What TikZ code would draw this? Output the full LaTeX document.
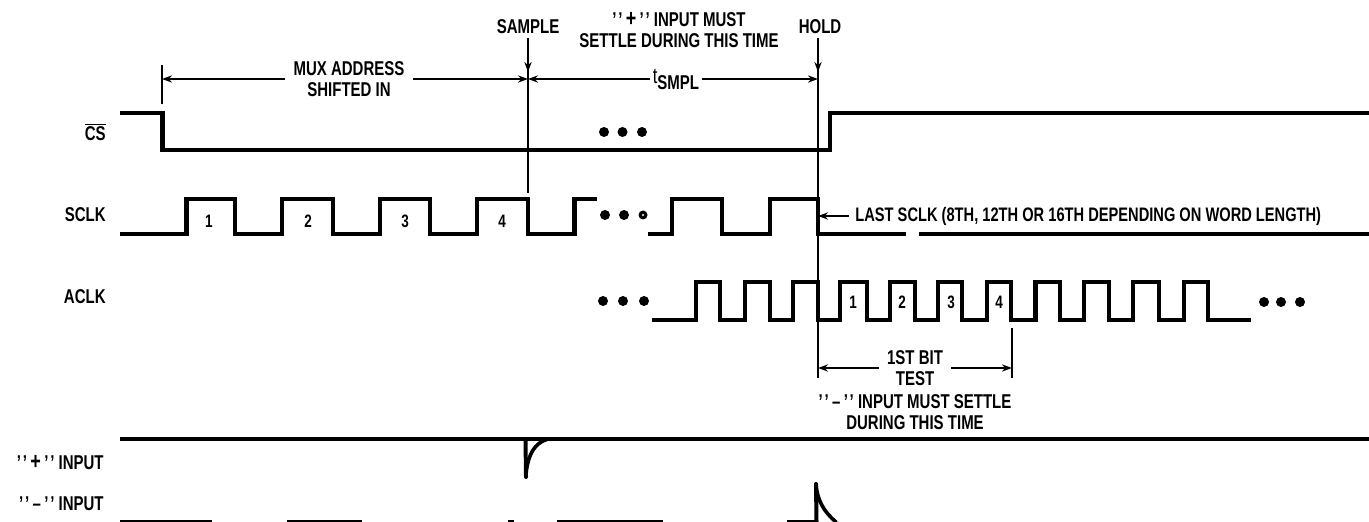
\documentclass[tikz,border=0pt]{standalone}
\usepackage{fontspec}
\setmainfont[FakeStretch=0.75,BoldFont={Liberation Sans Bold}]{Liberation Sans}
\usetikzlibrary{arrows.meta}
\newcommand{\tq}{'\kern0.9pt'}
\tikzset{
  sig/.style={line width=2.2pt,line join=miter,line cap=butt},
  thin line/.style={line width=1pt},
  arr/.style={line width=1pt,-{Stealth[length=5pt,width=3.6pt]}},
  lab/.style={font=\fontsize{10}{10.5}\selectfont\bfseries,inner sep=0pt,align=center},
  gaplab/.style={lab,inner xsep=4pt},
  dig/.style={font=\fontsize{9}{10}\selectfont\bfseries,inner sep=0pt},
  dotf/.style={fill=black,draw=none,circle,minimum size=5pt,inner sep=0pt},
}
\begin{document}
\begin{tikzpicture}[x=0.5pt,y=-0.5pt]
\useasboundingbox (0,0) rectangle (1369,522);
% row labels
\node[lab,anchor=east] (lcs) at (106,132) {$\overline{\mbox{CS}}$};
\node[lab,anchor=east] (lsclk) at (106,215) {SCLK};
\node[lab,anchor=east] (laclk) at (106,297) {ACLK};
\node[lab,anchor=east] (lplus) at (104,463) {\tq\,{\large +}\,\tq{} INPUT};
\node[lab,anchor=east] (lminus) at (104,504) {\tq\,--\,\tq{} INPUT};
% reference points
\coordinate (t0a) at (162,65);
\coordinate (t0b) at (162,104);
\coordinate (sa) at (528,38);
\coordinate (sb) at (528,193);
\coordinate (sm) at (528,72);
\coordinate (st) at (528,79);
\coordinate (ha) at (818,38);
\coordinate (hm) at (818,72);
\coordinate (hb) at (818,378);
\coordinate (ht) at (818,79);
\coordinate (hl) at (818,216);
\coordinate (bl) at (818,368);
\coordinate (r1) at (1012,328);
\coordinate (r2) at (1012,378);
\coordinate (rm) at (1012,368);
\coordinate (tl) at (162,79);
% signals
\draw[sig] (120,113) -- (162.5,113) -- (162.5,150) -- (830,150) -- (830,113) -- (1369,113);
\draw[sig] (120,234) -| (186.5,199) -| (235,234) -| (282,199) -| (333,234) -| (380,199) -| (430,234) -| (477,199) -| (528,234) -| (574.5,199) -- (597,199);
\draw[sig] (648,234) -| (672,199) -| (722,234) -| (770,199) -| (818,234) -- (906,234);
\draw[sig] (919,234) -- (1369,234);
\draw[sig] (652,320) -| (696,282) -| (720,320) -| (745,282) -| (770,320) -| (793,282) -| (818,320)
  -| (840,282) -| (867,320) -| (890,282) -| (915,320) -| (938,282) -| (962,320) -| (987,282) -| (1011,320)
  -| (1035.5,282) -| (1060,320) -| (1084,282) -| (1109,320) -| (1133,282) -| (1159,320) -| (1184,282) -| (1208,320) -- (1251,320);
\draw[sig] (120,439) -- (1369,439);
\draw[line width=2pt,line cap=round] (525.5,439) -- (526,477);
\draw[line width=1.8pt] (526,474) .. controls (528,455) and (534,443) .. (548,439);
\draw[line width=1.8pt,line cap=round] (816,484) .. controls (817,500) and (824,512) .. (836,522);
\draw[line width=2pt,line cap=round] (816,484) -- (816.5,522);
\draw[thin line] (120,521) -- (212,521);
\draw[thin line] (287,521) -- (362,521);
\draw[thin line] (508,521) -- (514,521);
\draw[thin line] (557,521) -- (663,521);
\draw[thin line] (787,521) -- (816,521);
% vertical markers
\draw[thin line] (t0a) -- (t0b);
\draw[thin line] (sa) -- (sb);
\draw[thin line] (ha) -- (hb);
\draw[thin line] (r1) -- (r2);
\draw[arr] (sa) -- (sm);
\draw[arr] (ha) -- (hm);
% top labels
\node[lab] (sample) at (528,27) {SAMPLE};
\node[lab] (hold) at (820,27) {HOLD};
\node[lab] (plus) at (679,30) {\tq\,{\large +}\,\tq{} INPUT MUST\\SETTLE DURING THIS TIME};
\node[gaplab] (mux) at (349,79) {MUX ADDRESS\\SHIFTED IN};
\node[gaplab,inner xsep=1pt] (tsmpl) at (676,79) {\fontsize{11}{10}\selectfont\mdseries t\raisebox{-3pt}{\fontsize{10}{10}\selectfont\bfseries SMPL}};
\draw[arr] (mux.west) -- (tl);
\draw[arr] (mux.east) -- (st);
\draw[arr] (tsmpl.west) -- (st);
\draw[arr] (tsmpl.east) -- (ht);
% last sclk
\node[lab,anchor=west,inner xsep=3pt,font=\fontsize{9.77}{10.5}\selectfont\bfseries] (last) at (849,216) {LAST SCLK (8TH, 12TH OR 16TH DEPENDING ON WORD LENGTH)};
\draw[arr] (last.west) -- (hl);
% first bit test
\node[gaplab] (bit) at (915,368) {1ST BIT\\TEST};
\draw[arr] (bit.west) -- (bl);
\draw[arr] (bit.east) -- (rm);
\node[lab] (minus) at (915,412) {\tq\,--\,\tq{} INPUT MUST SETTLE\\DURING THIS TIME};
% digits
\foreach \x/\d [count=\i] in {209/1,308/2,405/3,502/4} \node[dig] (s\i) at (\x,221) {\d};
\foreach \x/\d [count=\i] in {853/1,902/2,951/3,999/4} \node[dig] (a\i) at (\x,302) {\d};
% ellipses
\foreach \x [count=\i] in {604,622.5,642} \node[dotf] (dc\i) at (\x,132) {};
\foreach \x [count=\i] in {605,624} \node[dotf] (ds\i) at (\x,215) {};
\node[dotf,minimum size=4.5pt] (ds3) at (643,215) {};
\node[fill=white,circle,minimum size=1.2pt,inner sep=0pt] (ds3c) at (643,215) {};
\foreach \x [count=\i] in {603,623,644} \node[dotf] (da\i) at (\x,301) {};
\foreach \x [count=\i] in {1264,1281,1300} \node[dotf] (de\i) at (\x,302) {};
\end{tikzpicture}
\end{document}
